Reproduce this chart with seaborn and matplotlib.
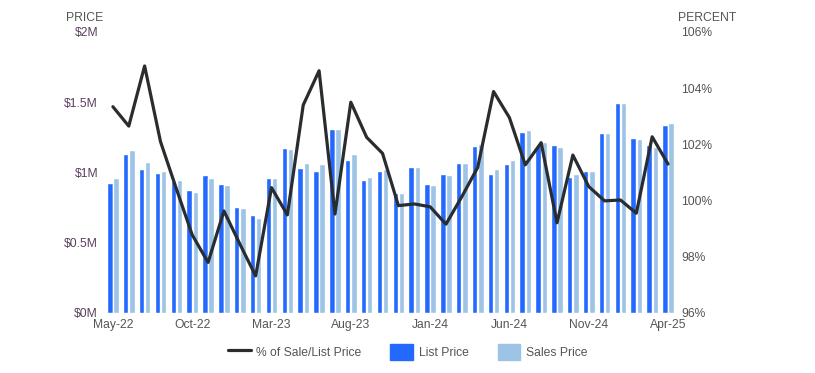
import numpy as np
import pandas as pd
import matplotlib
matplotlib.use("Agg")
import matplotlib.pyplot as plt
import seaborn as sns
from matplotlib.lines import Line2D
from matplotlib.patches import Patch

sns.set_style("white")
plt.rcParams['font.family'] = ['Liberation Sans', 'DejaVu Sans']

# 数据
months = ['May-22', 'Jun-22', 'Jul-22', 'Aug-22', 'Sep-22', 'Oct-22', 'Nov-22', 'Dec-22',
          'Jan-23', 'Feb-23', 'Mar-23', 'Apr-23', 'May-23', 'Jun-23', 'Jul-23', 'Aug-23',
          'Sep-23', 'Oct-23', 'Nov-23', 'Dec-23', 'Jan-24', 'Feb-24', 'Mar-24', 'Apr-24',
          'May-24', 'Jun-24', 'Jul-24', 'Aug-24', 'Sep-24', 'Oct-24', 'Nov-24', 'Dec-24',
          'Jan-25', 'Feb-25', 'Mar-25', 'Apr-25']
list_price = [0.925, 1.13, 1.025, 0.995, 0.94, 0.875, 0.98, 0.92, 0.755, 0.70, 0.96, 1.175,
              1.03, 1.01, 1.31, 1.09, 0.945, 1.01, 0.855, 1.04, 0.92, 0.99, 1.07, 1.19,
              0.99, 1.06, 1.29, 1.19, 1.195, 0.97, 1.01, 1.28, 1.495, 1.245, 1.195, 1.34]
sales_price = [0.96, 1.16, 1.075, 1.01, 0.945, 0.86, 0.96, 0.91, 0.745, 0.675, 0.96, 1.165,
               1.07, 1.06, 1.31, 1.13, 0.97, 1.025, 0.855, 1.04, 0.91, 0.98, 1.07, 1.20,
               1.025, 1.09, 1.30, 1.22, 1.18, 0.99, 1.01, 1.28, 1.495, 1.24, 1.18, 1.35]
pct_sale_list = [103.34, 102.65, 104.79, 102.1, 100.42, 98.78, 97.8, 99.63, 98.46, 97.32,
                 100.46, 99.49, 103.4, 104.62, 99.52, 103.5, 102.25, 101.68, 99.82, 99.88,
                 99.78, 99.16, 100.14, 101.18, 103.88, 102.95, 101.27, 102.06, 99.21, 101.62,
                 100.5, 99.99, 100.02, 99.55, 102.27, 101.3]
tick_months = ['May-22', 'Oct-22', 'Mar-23', 'Aug-23', 'Jan-24', 'Jun-24', 'Nov-24', 'Apr-25']

list_color = '#2469ff'
sales_color = '#9dc3e6'
line_color = '#2a2d30'
fs = 8.7

df = pd.DataFrame({
    'month': months * 2,
    'price': list_price + sales_price,
    'series': ['List Price'] * len(months) + ['Sales Price'] * len(months),
})

fig = plt.figure(figsize=(8.15, 3.73), dpi=100)
ax = fig.add_axes([0.1288, 0.1609, 0.7006, 0.7534])

sns.barplot(data=df, x='month', y='price', hue='series', order=months,
            palette={'List Price': list_color, 'Sales Price': sales_color},
            width=0.78, gap=0.12, ax=ax, legend=False, saturation=1)
ax.set_xlim(-0.5, len(months) - 0.5)
ax.set_ylim(0, 2)
ax.set_yticks([0, 0.5, 1, 1.5, 2])
ax.set_yticklabels(['$0M', '$0.5M', '$1M', '$1.5M', '$2M'])
ax.set_xticks([months.index(m) for m in tick_months])
ax.set_xticklabels(tick_months)
ax.set_xlabel('')
ax.set_ylabel('')
ax.tick_params(axis='y', length=0, pad=5, labelsize=fs, labelcolor='#5a3f5e')
ax.tick_params(axis='x', length=0, pad=4, labelsize=fs, labelcolor='#555555')

ax2 = ax.twinx()
sns.lineplot(x=np.arange(len(months)), y=pct_sale_list, color=line_color,
             linewidth=2.3, ax=ax2)
ax2.set_ylim(96, 106)
ax2.set_yticks([96, 98, 100, 102, 104, 106])
ax2.set_yticklabels([f'{v}%' for v in [96, 98, 100, 102, 104, 106]])
ax2.tick_params(axis='y', length=0, pad=4, labelsize=fs, labelcolor='#555555')
ax2.set_xlim(-0.5, len(months) - 0.5)

for a in (ax, ax2):
    for s in a.spines.values():
        s.set_visible(False)

fig.text(0.081, 0.944, 'PRICE', fontsize=8.8, color='#555555')
fig.text(0.832, 0.944, 'PERCENT', fontsize=8.8, color='#555555')

handles = [Line2D([0], [0], color=line_color, linewidth=2.3),
           Patch(color=list_color), Patch(color=sales_color)]
fig.legend(handles, ['% of Sale/List Price', 'List Price', 'Sales Price'],
           loc='center', bbox_to_anchor=(0.5, 0.056), ncol=3, frameon=False,
           fontsize=fs, labelcolor='#555555', handlelength=1.9, handleheight=1.65,
           columnspacing=2.4, handletextpad=0.45)

fig.savefig('out.png', dpi=100)
